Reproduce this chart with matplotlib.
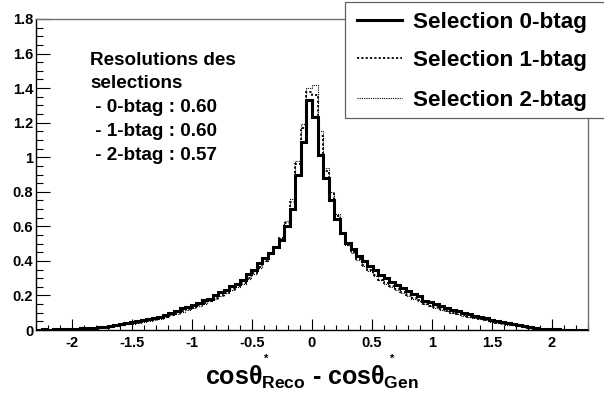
import numpy as np
import matplotlib
matplotlib.use("Agg")
import matplotlib.pyplot as plt
from matplotlib.lines import Line2D
from matplotlib.patches import Rectangle
from matplotlib.ticker import MultipleLocator, FormatStrFormatter

# ---------------- data ----------------
x_min, x_max, n_bins = -2.3, 2.3, 100

sel0 = [0.002, 0.003, 0.002, 0.004, 0.004, 0.005, 0.006, 0.008, 0.009, 0.012,
        0.014, 0.017, 0.020, 0.024, 0.028, 0.033, 0.040, 0.047, 0.050, 0.058,
        0.064, 0.070, 0.078, 0.084, 0.098, 0.112, 0.128, 0.135, 0.142, 0.158,
        0.172, 0.180, 0.200, 0.222, 0.230, 0.252, 0.268, 0.290, 0.322, 0.345,
        0.385, 0.415, 0.448, 0.480, 0.520, 0.600, 0.700, 0.900, 1.090, 1.330,
        1.230, 1.010, 0.880, 0.750, 0.640, 0.560, 0.505, 0.470, 0.430, 0.400,
        0.370, 0.345, 0.320, 0.300, 0.280, 0.262, 0.242, 0.225, 0.210, 0.195,
        0.170, 0.160, 0.152, 0.138, 0.130, 0.118, 0.110, 0.100, 0.092, 0.082,
        0.074, 0.068, 0.058, 0.050, 0.045, 0.040, 0.033, 0.030, 0.022, 0.015,
        0.010, 0.007, 0.005, 0.004, 0.003, 0.002, 0.002, 0.001, 0.001, 0.001]

sel1 = [0.001, 0.002, 0.002, 0.003, 0.003, 0.004, 0.005, 0.006, 0.008, 0.010,
        0.012, 0.014, 0.017, 0.020, 0.024, 0.028, 0.033, 0.038, 0.043, 0.050,
        0.055, 0.062, 0.068, 0.076, 0.086, 0.098, 0.110, 0.120, 0.130, 0.142,
        0.156, 0.168, 0.185, 0.202, 0.215, 0.235, 0.252, 0.272, 0.300, 0.328,
        0.365, 0.400, 0.440, 0.478, 0.530, 0.620, 0.740, 0.960, 1.170, 1.380,
        1.360, 1.120, 0.920, 0.790, 0.660, 0.560, 0.490, 0.450, 0.410, 0.375,
        0.345, 0.318, 0.292, 0.272, 0.252, 0.235, 0.218, 0.200, 0.185, 0.172,
        0.150, 0.140, 0.132, 0.120, 0.112, 0.100, 0.094, 0.086, 0.078, 0.070,
        0.063, 0.058, 0.050, 0.043, 0.038, 0.033, 0.028, 0.024, 0.018, 0.013,
        0.009, 0.006, 0.004, 0.003, 0.002, 0.002, 0.001, 0.001, 0.001, 0.000]

sel2 = [0.001, 0.002, 0.002, 0.002, 0.003, 0.004, 0.005, 0.006, 0.007, 0.009,
        0.011, 0.014, 0.016, 0.019, 0.023, 0.027, 0.032, 0.037, 0.042, 0.048,
        0.054, 0.060, 0.066, 0.074, 0.084, 0.095, 0.106, 0.118, 0.128, 0.140,
        0.152, 0.165, 0.182, 0.198, 0.212, 0.232, 0.248, 0.268, 0.296, 0.325,
        0.360, 0.398, 0.438, 0.480, 0.535, 0.630, 0.760, 0.980, 1.190, 1.400,
        1.420, 1.150, 0.940, 0.800, 0.670, 0.565, 0.492, 0.448, 0.405, 0.372,
        0.340, 0.315, 0.288, 0.268, 0.248, 0.230, 0.214, 0.196, 0.182, 0.168,
        0.148, 0.138, 0.128, 0.118, 0.108, 0.098, 0.090, 0.083, 0.075, 0.068,
        0.061, 0.055, 0.048, 0.042, 0.036, 0.031, 0.027, 0.022, 0.017, 0.012,
        0.008, 0.006, 0.004, 0.003, 0.002, 0.001, 0.001, 0.001, 0.000, 0.000]

labels = ["Selection 0-btag", "Selection 1-btag", "Selection 2-btag"]
res_title = ["Resolutions des", "selections"]
res_lines = [" - 0-btag : 0.60", " - 1-btag : 0.60", " - 2-btag : 0.57"]

# ---------------- style ----------------
plt.rcParams['font.family'] = ['Liberation Sans', 'DejaVu Sans']
plt.rcParams['font.weight'] = 'bold'
plt.rcParams['mathtext.fontset'] = 'custom'
plt.rcParams['mathtext.rm'] = 'Liberation Sans:bold'
plt.rcParams['mathtext.it'] = 'Liberation Sans'
plt.rcParams['mathtext.bf'] = 'Liberation Sans:bold'

W, H = 604, 396
fig = plt.figure(figsize=(W / 100, H / 100), dpi=100)
ax = fig.add_axes([36 / W, 1 - 330 / H, (588 - 36) / W, (330 - 19) / H])

edges = np.linspace(x_min, x_max, n_bins + 1)
styles = [
    dict(color='black', lw=2.2, linestyle='-'),
    dict(color='black', lw=1.3, linestyle=(0, (1.2, 1.2))),
    dict(color='black', lw=0.8, linestyle=(0, (1.0, 1.0))),
]
for vals, st in zip([sel2, sel1, sel0], styles[::-1]):
    ax.stairs(vals, edges, baseline=None, **st)

ax.set_xlim(x_min, x_max)
ax.set_ylim(0, 1.8)

ax.xaxis.set_major_locator(MultipleLocator(0.5))
ax.xaxis.set_minor_locator(MultipleLocator(0.1))
ax.yaxis.set_major_locator(MultipleLocator(0.2))
ax.yaxis.set_minor_locator(MultipleLocator(0.05))
ax.xaxis.set_major_formatter(FormatStrFormatter('%g'))
ax.yaxis.set_major_formatter(FormatStrFormatter('%g'))

ax.tick_params(axis='x', which='major', direction='in', length=8, width=0.8,
               labelsize=10.5, pad=4, top=False)
ax.tick_params(axis='x', which='minor', direction='in', length=3.8, width=0.8, top=False)
ax.tick_params(axis='y', which='major', direction='in', length=10, width=0.8,
               labelsize=10.5, pad=2, right=False)
ax.tick_params(axis='y', which='minor', direction='in', length=5, width=0.8, right=False)
for lab in ax.get_xticklabels() + ax.get_yticklabels():
    lab.set_fontweight('bold')

for s in ['left', 'bottom']:
    ax.spines[s].set_color('black')
    ax.spines[s].set_linewidth(1.0)
for s in ['top', 'right']:
    ax.spines[s].set_color('#707070')
    ax.spines[s].set_linewidth(1.0)

# x label (ROOT-like: stars sit above the theta, shallow subscripts)
xlab = fig.text(312 / W, 1 - 385 / H,
                r'cos$\theta_{\mathrm{Reco}}$ - cos$\theta_{\mathrm{Gen}}$',
                ha='center', va='baseline', fontsize=18, fontweight='bold')
fig.canvas.draw()
renderer = fig.canvas.get_renderer()
lab_top = xlab.get_window_extent(renderer).y1  # display px from bottom
stars = []
for xs in (266, 392):
    t = fig.text(xs / W, 1 - 363.5 / H, '*', ha='center', va='baseline',
                 fontsize=8, fontweight='bold')
    stars.append(t)
fig.canvas.draw()
for t in stars:
    bb = t.get_window_extent(renderer)
    if bb.y0 < lab_top + 0.5:
        dy = (lab_top + 0.5 - bb.y0) / H
        x0, y0 = t.get_position()
        t.set_position((x0, y0 + dy))

# resolution text
baselines = [65, 88, 112, 136, 160]
for txt, yb in zip(res_title + res_lines, baselines):
    fig.text(90 / W, 1 - yb / H, txt, ha='left', va='baseline',
             fontsize=13.6, fontweight='bold')

# legend (manual, ROOT TLegend-like)
fig.add_artist(Rectangle((345 / W, 1 - 118 / H), (W + 10 - 345) / W, (118 - 2) / H,
                         transform=fig.transFigure, facecolor='white',
                         edgecolor='#606060', lw=0.9, zorder=5))
ycent = [20, 58, 98]
for lab, st, yc in zip(labels, styles, ycent):
    fig.add_artist(Line2D([357 / W, 402 / W], [1 - yc / H, 1 - yc / H],
                          transform=fig.transFigure, zorder=6, **st))
    fig.text(413 / W, 1 - yc / H, lab, ha='left', va='center_baseline',
             fontsize=16.2, fontweight='bold', zorder=6)

fig.savefig('out.png', dpi=100)
